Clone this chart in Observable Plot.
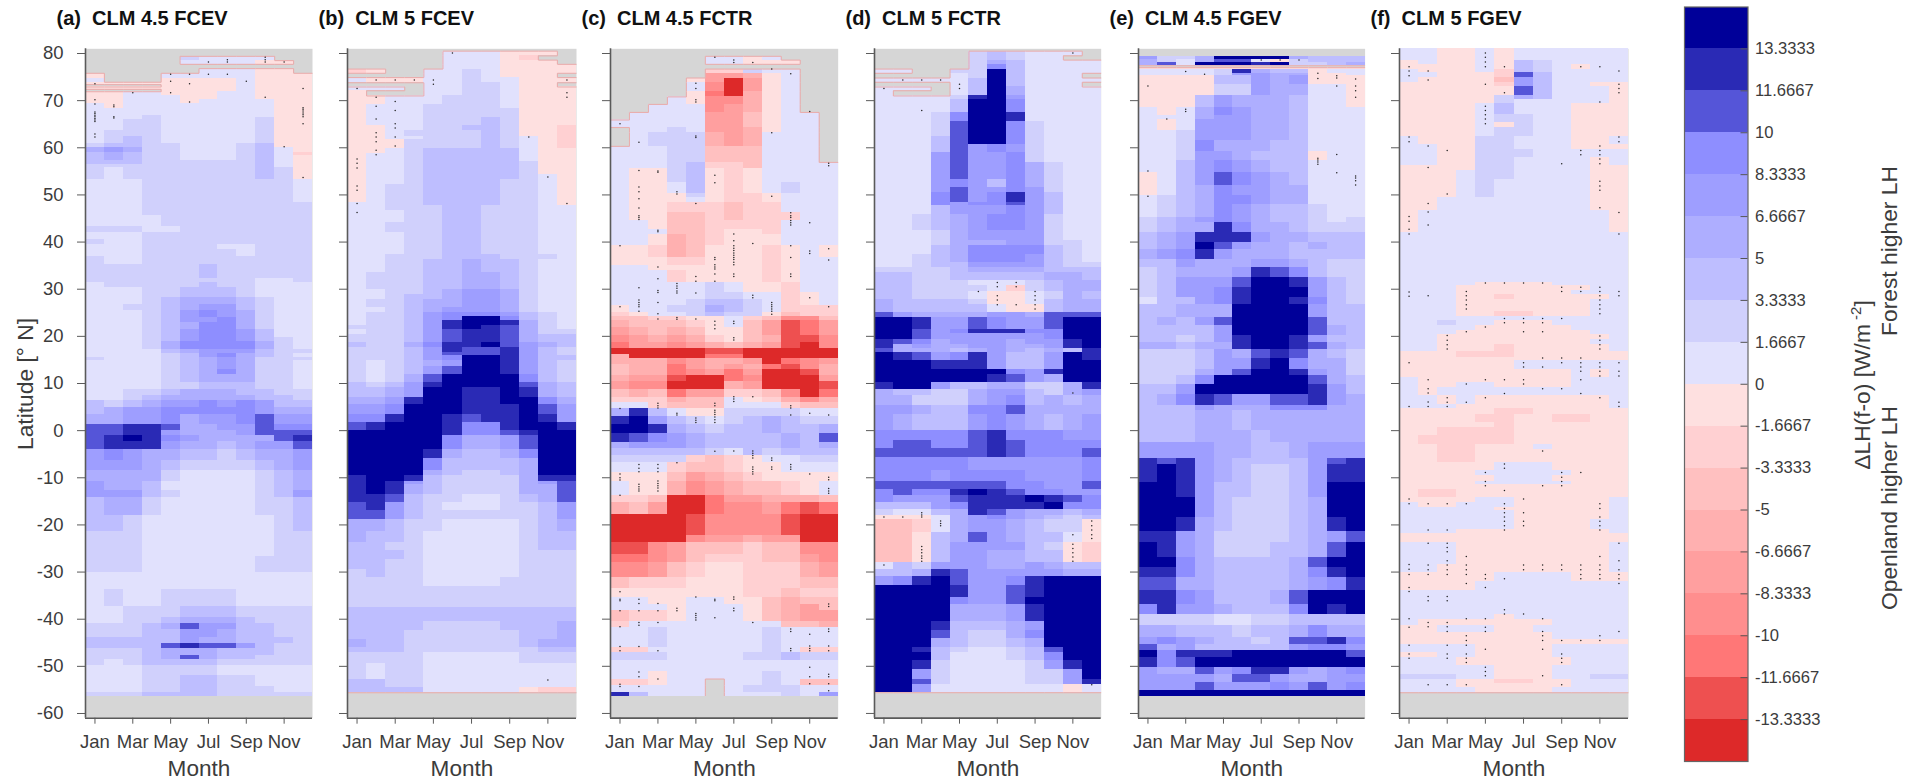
<!DOCTYPE html>
<html><head><meta charset="utf-8">
<script src="https://cdn.jsdelivr.net/npm/d3@7"></script>
<script src="https://cdn.jsdelivr.net/npm/@observablehq/plot@0.6"></script>
<style>
html,body{margin:0;padding:0;background:#fff;}
#root{position:relative;width:1907px;height:781px;overflow:hidden;font-family:"Liberation Sans",sans-serif;color:#3c3c3c;}
#root>div.p{position:absolute;top:0;}
.rot{position:absolute;white-space:nowrap;transform:translate(-50%,-50%) rotate(-90deg);font-size:22.8px;line-height:1;}
.rot sup{font-size:15px;line-height:0;}
</style></head><body><div id="root"></div>
<script>
const N = null, G = Array(12).fill(null);
const monthNames = ["Jan","Mar","May","Jul","Sep","Nov"];
const monthTicks = [1,3,5,7,9,11];
const latTicks = [-60,-50,-40,-30,-20,-10,0,10,20,30,40,50,60,70,80];
const barTicks = [-13.3333,-11.6667,-10,-8.3333,-6.6667,-5,-3.3333,-1.6667,0,1.6667,3.3333,5,6.6667,8.3333,10,11.6667,13.3333];
const barColors = ["#dd2929","#ee5050","#ff7777","#ff8e8e","#ff9f9f","#ffb0b0","#ffc0c0","#ffd0d2","#fee0e0","#e1e1fd","#d0d0fc","#bebeff","#aeaeff","#9e9eff","#8e8eff","#5555d8","#2a2ab5","#000099"];
const titles = ["(a)\u00a0\u00a0CLM 4.5 FCEV","(b)\u00a0\u00a0CLM 5 FCEV","(c)\u00a0\u00a0CLM 4.5 FCTR","(d)\u00a0\u00a0CLM 5 FCTR","(e)\u00a0\u00a0CLM 4.5 FGEV","(f)\u00a0\u00a0CLM 5 FGEV"];

// Each row: latitude of the row's upper edge, then the colour class of Jan..Dec
// (class k means k-th 1.6667 W/m2 interval above 0, negative below 0, null = no data)
const panelA = [
[79.4,N,N,N,N,N,2,1,1,1,1,N,N],[78.5,N,N,N,N,N,1,1,1,1,-1,-1,N],[77.7,...G],
[76.8,N,N,N,N,N,N,1,1,1,-1,-1,N],[75.8,-1,N,N,N,1,1,1,1,1,-1,-1,-1],[74.8,1,N,N,N,-1,-1,-1,-1,1,-1,-1,-1],
[73.9,-1,-1,-1,-1,-1,-1,-1,-1,1,-1,-1,-1],[73.4,N,N,N,N,-1,-1,-1,-1,1,-1,-1,-1],[72.9,-1,-1,-1,-1,-1,-1,-1,-1,1,-1,-1,-1],[72.4,N,N,N,N,-1,-1,-1,-1,1,-1,-1,-1],
[71.9,-1,-1,1,1,-1,-1,-1,1,1,-1,-1,-1],[71,-1,-1,1,1,1,-1,-1,1,1,-1,-1,-1],[70.3,-1,-1,1,1,1,-1,1,1,1,1,-1,-1],[69.4,1,-1,1,1,1,1,1,1,1,1,-1,-1],
[68.4,1,1,1,1,1,1,1,1,1,1,-1,-1],[66.9,1,1,1,2,1,1,1,1,1,1,-1,-1],[66.4,1,1,1,2,1,1,1,1,1,2,-1,-1],[65.9,1,1,2,2,1,1,1,1,1,2,-1,-1],
[63.6,1,2,2,2,1,1,1,1,1,2,-1,-1],[62.3,1,2,3,2,1,1,1,1,1,2,-1,-1],[60.9,2,3,3,2,2,1,1,1,2,3,-1,-1],[60.1,4,5,4,2,2,1,1,1,2,3,1,-1],
[59,3,4,3,2,2,1,1,1,2,3,1,-2],[58.4,3,4,3,2,2,1,1,1,2,3,1,-1],[57.4,3,3,3,2,2,2,2,2,2,3,1,-1],[56.5,2,2,2,2,2,2,2,2,2,3,1,-1],[55.8,2,1,2,2,2,2,2,2,2,3,2,-1],
[53.3,1,1,1,2,2,2,2,2,2,2,2,1],[48.4,1,1,1,2,2,2,2,2,2,2,2,2],[45.6,1,1,1,1,2,2,2,2,2,2,2,2],[43.2,2,2,2,1,1,2,2,2,2,2,2,2],
[42,1,1,1,2,2,2,2,2,2,2,2,2],[40.6,2,1,1,2,2,2,2,2,2,2,2,2],[39.5,1,1,1,2,2,2,2,1,1,2,2,2],[38.5,1,1,1,2,2,2,2,2,1,2,2,2],[36.9,2,1,1,2,2,2,2,2,2,2,2,2],
[35.3,2,2,2,2,2,2,3,2,2,2,2,2],[32.3,2,2,2,2,2,2,2,2,2,1,1,2],[31.4,1,2,2,2,2,2,3,2,2,1,1,1],[30.4,1,1,1,2,2,3,3,3,2,1,1,1],
[28.2,1,1,1,2,3,4,4,4,3,2,1,1],[26.8,1,1,2,2,3,4,5,5,3,2,1,1],[25.4,1,1,1,2,3,5,6,5,4,2,1,1],[24,1,1,1,2,3,5,5,6,4,2,1,1],[23,1,1,1,2,3,4,6,6,4,2,1,1],
[21.5,1,1,1,2,3,5,6,6,5,3,1,1],[19.7,1,1,1,2,3,5,6,6,5,3,2,1],[18.9,1,1,1,2,4,6,6,6,6,4,2,1],[17.3,1,1,1,1,3,4,5,5,5,3,2,2],[16.3,1,1,1,1,2,3,5,6,4,3,2,1],
[15.5,2,1,1,1,2,3,4,5,4,2,2,2],[14.8,1,1,1,1,2,3,4,5,4,2,2,1],[13,1,1,1,1,2,3,4,6,4,2,2,1],[12,1,1,1,1,2,3,4,4,4,2,2,1],[10.2,1,1,1,1,2,2,3,3,3,2,2,1],
[8.8,1,1,2,2,3,4,4,4,3,3,2,2],[7.4,1,1,2,3,4,4,4,4,4,3,3,2],[6.3,3,2,3,4,5,5,6,5,6,5,3,3],[4.9,3,4,5,5,6,6,6,6,6,5,4,4],[3.5,4,4,5,5,6,4,5,5,6,7,5,5],
[1.4,7,7,8,8,7,4,4,5,5,7,6,6],[0,7,7,8,8,5,4,4,4,5,7,7,7],[-1.1,7,8,9,8,6,5,4,4,4,4,7,8],[-2.2,7,8,8,8,5,4,4,3,4,5,5,7],[-3.9,5,6,5,4,4,3,3,2,3,4,4,5],
[-6.4,5,5,5,4,3,2,2,2,2,3,4,5],[-8.5,4,4,4,4,2,1,1,1,1,2,3,4],[-10.7,5,4,4,3,1,1,1,1,1,2,3,4],[-12.8,5,5,5,3,2,1,1,1,1,2,3,5],[-14.2,3,4,4,2,1,1,1,1,1,2,2,3],
[-18,3,3,2,1,1,1,1,1,1,1,2,3],[-21.3,2,2,2,1,1,1,1,1,1,1,2,2],[-26.6,2,2,2,1,1,1,1,1,1,2,2,2],[-30,1,1,1,1,1,1,1,1,1,1,1,1],[-33.6,1,2,1,1,2,2,2,2,1,1,1,1],
[-37.2,1,1,2,2,2,3,3,3,2,2,2,2],[-39.6,1,1,2,2,3,4,4,4,3,2,2,2],[-41,2,2,2,3,4,7,5,5,3,3,2,2],[-42.1,2,2,2,3,3,5,5,4,3,3,2,2],[-43.9,3,3,3,3,3,5,4,4,3,3,3,2],
[-45.2,3,3,3,3,7,8,7,7,5,3,2,2],[-46.2,2,2,2,3,4,4,4,3,3,3,2,2],[-47.8,2,2,2,3,4,7,4,3,3,2,2,2],[-48.5,2,1,2,3,3,3,3,2,2,2,2,2],[-49.9,1,1,1,2,2,2,2,1,1,1,1,1],
[-52,1,1,1,2,2,3,3,2,2,1,1,1],[-54.2,1,1,1,2,2,3,3,2,2,2,1,1],[-55.6,2,2,2,3,3,3,3,2,2,2,2,2],[-56.3,...G]];

const panelB = [
[80.5,N,N,N,N,N,1,1,1,-1,-1,-1,N],[79.5,N,N,N,N,N,1,1,1,-1,-2,N,N],[78.6,N,N,N,N,N,1,1,1,-1,-1,-1,N],[77.7,N,N,N,N,N,1,1,1,-1,-1,-1,-1],
[76.7,-2,-1,N,N,1,1,2,1,-1,-1,-1,-1],[75.8,N,N,N,N,1,1,2,1,-1,-1,-1,N],[74.9,1,-1,-1,-1,1,1,2,1,1,-1,-1,-1],[73.8,N,N,N,N,1,1,2,2,1,-1,-1,N],[72.9,1,1,1,N,1,1,2,2,1,-1,-1,-1],
[72.1,-1,N,N,N,1,1,2,2,1,-1,-1,-1],[71,-1,-1,1,1,1,2,2,2,1,-1,-1,-1],[69.2,-1,1,1,1,2,2,2,2,1,-1,-1,-1],[68.4,-1,1,1,1,2,2,2,2,2,-1,-1,-1],[66.4,-1,1,1,1,2,2,2,3,2,-1,-1,-1],
[64.7,-1,-1,1,1,2,2,3,3,2,-1,-1,-2],[63.6,-1,-1,1,2,2,2,2,3,2,-1,-1,-2],[62.5,-1,-1,1,1,2,2,2,3,2,1,-1,-2],[61.7,-1,-1,-1,2,2,2,2,3,2,1,-1,-2],[59.8,-1,-1,1,2,3,3,3,3,3,1,-1,-1],
[58.8,-1,1,1,2,3,3,3,3,3,1,-1,-1],[57,-1,1,1,2,3,3,3,3,3,2,-1,-1],[54.3,-1,1,1,2,3,3,3,3,3,2,1,-1],[53.3,-1,1,1,2,3,3,3,3,2,2,1,-1],[52.3,-1,1,2,2,3,3,3,3,2,2,1,-1],
[48.4,1,1,2,2,3,3,3,3,2,2,1,-1],[47.7,1,1,2,2,2,3,3,2,2,2,1,1],[46.6,1,1,1,2,2,3,3,2,2,2,1,1],[44.1,1,1,2,2,2,3,3,2,2,2,1,1],[42,1,1,1,2,2,3,3,2,2,2,1,1],
[37.4,1,1,2,2,2,3,3,3,2,2,2,1],[36.4,1,1,2,2,3,3,4,3,3,2,1,1],[33.5,1,2,2,2,3,3,4,4,3,2,1,1],[30,1,1,2,2,3,4,5,5,4,2,1,1],[28.9,1,1,2,3,3,4,5,5,4,2,1,1],
[27.9,1,2,2,3,4,4,5,5,4,2,1,1],[26.1,1,1,2,3,4,5,5,5,4,2,1,1],[25,1,2,2,3,5,6,6,6,5,3,2,1],[24.3,1,2,2,3,5,6,9,9,6,3,2,1],[23.3,1,2,2,3,5,8,9,9,8,4,2,1],
[22.2,2,2,2,3,5,8,9,8,7,4,2,1],[21.5,1,2,2,3,5,7,8,8,7,4,2,2],[20.5,2,2,2,3,5,7,8,8,7,4,3,3],[18.7,3,2,2,4,6,8,8,9,7,5,4,3],[17.6,2,2,2,3,5,8,7,7,8,5,3,2],
[16.6,2,2,2,3,5,7,7,7,8,5,3,2],[15.9,2,2,2,3,5,6,9,9,8,5,3,3],[14.8,2,1,2,3,4,5,9,9,8,5,3,2],[13.7,2,1,2,3,5,7,9,9,8,5,3,2],[12,2,1,2,4,7,9,9,9,9,6,3,2],
[10.2,3,2,3,5,8,9,9,9,9,7,4,3],[9.1,3,3,4,5,9,9,8,8,9,8,4,3],[7,4,4,5,8,9,9,8,8,9,9,6,4],[5.6,5,5,6,9,9,9,8,8,8,9,7,5],[3.5,6,6,8,9,9,8,7,8,8,9,8,5],
[1.7,7,8,9,9,9,8,6,6,8,9,9,8],[0,9,9,9,9,9,8,6,6,7,8,9,9],[-1.1,9,9,9,9,9,6,4,4,5,7,9,9],[-3.9,9,9,9,9,8,4,3,3,4,6,9,9],[-6,9,9,9,9,6,3,3,3,3,4,9,9],
[-8.5,9,9,9,9,4,3,2,2,3,4,9,9],[-9.6,8,9,9,8,3,2,2,2,2,4,8,8],[-10.7,8,9,8,5,3,2,2,2,2,4,5,7],[-11.4,8,9,8,4,3,2,2,2,2,4,4,7],[-13.5,8,8,7,3,2,2,1,1,2,3,4,7],
[-15.2,7,8,5,3,2,1,1,1,2,2,3,5],[-17,7,7,5,3,2,2,2,2,2,2,3,5],[-18.8,4,4,3,2,2,1,1,1,1,2,3,4],[-21.3,4,3,3,2,1,1,1,1,1,2,3,3],[-23.7,3,3,2,2,1,1,1,1,1,2,3,3],
[-25.5,3,3,3,2,1,1,1,1,1,2,2,2],[-27.3,3,3,2,2,1,1,1,1,1,2,2,2],[-29.4,2,3,2,2,1,1,1,1,1,2,2,2],[-31.2,2,2,2,2,1,1,1,1,2,2,2,2],[-33,2,2,2,2,2,2,2,2,2,2,2,2],
[-37.5,3,3,3,3,3,3,3,3,3,3,3,3],[-40.5,3,3,3,3,2,2,2,2,3,3,3,4],[-42.5,3,3,3,2,2,2,2,2,2,3,3,4],[-44.2,4,3,3,2,2,2,2,2,2,3,4,4],[-46,3,3,3,2,2,2,2,2,2,2,3,3],
[-47,2,2,2,2,1,1,1,1,1,2,2,2],[-49.5,2,1,2,2,1,1,1,1,1,1,1,1],[-52.7,3,3,2,2,1,1,1,1,1,1,1,1],[-54.5,3,3,3,3,1,1,1,1,1,-1,-2,-2],[-55.6,...G]];

const panelC = [
[79.4,N,N,N,N,N,1,1,-1,1,N,N,N],[78.6,N,N,N,N,N,1,1,-1,-1,-1,N,N],[77.7,...G],[76.7,N,N,N,N,N,-2,-2,2,1,1,N,N],[75.8,N,N,N,N,N,-5,-5,-4,-1,1,N,N],
[74.8,N,N,N,N,-1,-5,-9,-5,-1,1,N,N],[73.9,N,N,N,N,1,-6,-9,-5,-1,1,N,N],[71.9,N,N,N,N,-1,-7,-9,-4,-1,1,N,N],[70.8,N,N,N,1,-1,-6,-6,-4,-1,1,N,N],[69.2,N,N,1,1,1,-6,-5,-4,-1,1,N,N],
[67.5,N,1,1,1,1,-5,-5,-3,-1,1,1,N],[65.9,1,1,1,1,1,-5,-5,-3,-1,1,1,N],[64.3,N,1,1,2,1,-5,-5,-4,-1,1,1,N],[63.2,N,1,2,2,2,-4,-5,-4,1,1,1,N],[60.3,1,1,1,2,2,-3,-3,-3,1,1,1,N],
[56.9,1,1,1,2,3,-2,-2,-3,1,1,1,1],[55.5,1,-1,-1,2,3,-1,-2,-1,1,1,1,1],[52.6,1,-1,-1,1,3,-1,-2,-1,1,2,1,1],[50.3,1,-1,-1,-1,2,-1,-2,-2,-1,1,1,1],[49.4,1,-1,-1,-1,1,-1,-2,-2,-1,1,1,1],
[48.4,1,-1,-1,-2,-2,-2,-3,-2,-2,1,1,1],[46.3,1,-1,-1,-3,-3,-2,-3,-2,-2,-2,1,1],[44.5,1,1,-1,-3,-3,-2,-2,-2,-2,1,1,1],[42.7,1,1,1,-3,-3,-2,-1,-1,-2,1,1,1],[41.7,1,1,-1,-4,-3,-2,-1,-1,-1,1,1,1],
[39.2,-1,-1,-2,-4,-3,-1,-1,-1,-2,-1,1,-1],[36.7,-1,-1,-1,-2,-2,-1,-1,-1,-2,-1,1,1],[35,1,1,-1,-1,-1,-1,-1,-1,-2,-1,1,1],[33.9,1,1,1,-2,-1,-1,-1,-1,-2,-1,1,1],[31.4,1,1,1,1,1,2,1,-1,-1,-2,1,1],
[29.3,1,1,1,1,1,2,2,1,1,-2,-1,1],[27.9,1,1,1,1,2,3,3,2,1,-2,-1,1],[26.5,-1,1,1,2,2,4,3,2,1,-2,-2,-2],[25,-2,-1,1,1,2,3,2,2,-1,-3,-2,-2],[24.3,-3,-3,-2,-2,-1,-1,1,-2,-3,-6,-6,-3],
[23.3,-4,-3,-3,-3,-2,-1,1,-3,-5,-8,-7,-5],[21.9,-5,-4,-3,-4,-3,-1,-1,-3,-5,-8,-7,-5],[20.1,-6,-5,-4,-5,-4,-2,-1,-3,-4,-8,-8,-6],[18.7,-7,-5,-5,-6,-5,-4,-3,-4,-5,-8,-9,-6],
[17.5,-9,-9,-9,-9,-9,-8,-8,-9,-9,-9,-9,-9],[16.2,-4,-9,-9,-9,-9,-7,-7,-9,-9,-9,-9,-9],[15.4,-4,-4,-4,-6,-5,-4,-4,-5,-9,-7,-6,-5],[14.1,-3,-4,-4,-7,-5,-4,-5,-4,-7,-8,-6,-4],
[13,-3,-4,-4,-7,-6,-5,-7,-5,-9,-9,-8,-4],[11.6,-4,-5,-5,-8,-9,-9,-7,-6,-9,-9,-9,-5],[10.5,-5,-6,-6,-9,-9,-9,-4,-5,-9,-9,-9,-8],[8.8,-3,-4,-3,-7,-5,-5,-2,-2,-3,-6,-9,-7],
[7,-2,-2,-2,-4,-3,-3,1,-1,-2,-4,-6,-4],[6,1,1,-2,-3,-3,-3,1,1,1,-2,-3,-3],[4.6,4,8,3,1,-1,-1,2,2,2,2,1,1],[3.1,8,9,5,3,2,1,2,3,4,3,2,2],[1.4,9,9,8,4,3,2,3,3,4,3,3,4],
[-0.6,8,7,6,5,4,3,3,3,3,4,3,7],[-2.5,4,5,5,5,4,3,3,3,3,4,3,4],[-3.9,3,3,3,3,3,2,1,3,2,3,3,3],[-5.3,2,2,2,2,-2,-3,-2,-1,1,1,2,2],[-6.8,1,1,1,-2,-3,-3,-2,-1,-1,1,1,1],
[-8.9,-1,-1,-1,-3,-5,-4,-3,-2,-1,-1,-1,-1],[-10.7,1,-1,-1,-4,-6,-5,-4,-3,-3,-2,-1,1],[-13.8,-2,-2,-3,-9,-9,-7,-5,-5,-4,-4,-4,-3],[-15.2,-4,-3,-5,-9,-9,-7,-6,-6,-5,-7,-8,-7],
[-17.7,-9,-9,-9,-9,-8,-6,-6,-6,-6,-8,-9,-9],[-22.3,-9,-9,-9,-9,-6,-5,-5,-4,-5,-5,-9,-9],[-23.7,-8,-8,-6,-5,-3,-3,-3,-2,-3,-3,-6,-6],[-26.2,-7,-7,-6,-5,-3,-2,-2,-2,-3,-3,-5,-6],
[-28,-6,-6,-5,-3,-2,-1,-1,-2,-2,-2,-4,-5],[-31.2,-3,-2,-2,-2,-1,-1,-1,-2,-2,-2,-3,-3],[-33.6,-1,-1,-1,-1,-1,-1,-1,-2,-2,-3,-2,-2],[-35.4,1,1,-1,-1,1,1,-1,-1,-3,-4,-3,-3],
[-36.8,1,1,1,-1,1,1,1,-1,-3,-4,-5,-3],[-38.2,-3,-2,-2,-1,1,1,1,-1,-3,-4,-5,-5],[-40.4,-2,1,1,1,1,1,1,1,1,-3,-3,-4],[-41.8,1,1,2,1,1,1,1,1,2,1,1,1],[-46.1,-2,-2,1,1,1,1,1,1,2,1,-2,-2],
[-47.1,2,2,2,1,1,1,1,2,2,3,2,2],[-48.8,1,1,1,1,1,1,1,1,1,1,1,1],[-51,1,1,-1,1,1,1,1,1,2,1,1,1],[-52.7,-2,-2,-1,1,1,N,1,1,2,1,-3,-3],[-54.1,1,1,1,1,1,N,1,2,2,2,1,1],
[-55.6,8,3,1,1,1,N,1,1,1,2,1,5],[-56.3,...G]];

const panelD = [
[80.5,N,N,N,N,N,2,3,2,1,1,1,N],[79.5,N,N,N,N,N,2,3,2,1,1,N,N],[78.6,N,N,N,N,N,2,4,3,1,1,1,1],[77.7,N,N,N,N,N,2,6,3,1,1,1,1],[76.7,1,1,N,N,2,2,9,3,1,1,1,1],
[75.8,N,N,N,N,1,2,9,3,1,1,1,N],[74.8,1,1,1,1,1,3,9,3,1,1,1,1],[73.9,N,N,N,N,1,3,9,3,1,1,1,N],[72.9,1,1,1,N,1,3,9,4,1,1,1,1],[72.1,1,N,N,N,1,3,9,4,1,1,1,1],
[71,1,1,1,1,2,8,9,5,1,1,1,1],[70.3,1,1,1,1,3,9,9,6,1,1,1,1],[67.5,1,1,1,2,6,9,9,8,1,1,1,1],[65.6,1,1,1,2,7,9,9,6,2,1,1,1],[62.5,1,1,1,3,7,9,9,6,2,1,1,1],
[60.8,1,1,1,3,7,5,6,5,2,1,1,1],[59,1,1,1,5,7,5,5,6,2,1,1,1],[56.9,1,1,1,5,7,5,5,6,4,2,1,1],[53.3,1,1,1,5,6,5,3,6,4,2,1,1],[51.6,1,1,1,5,7,5,5,6,5,2,1,1],
[50.5,1,1,1,6,7,5,6,8,5,3,1,1],[48.4,1,1,1,6,5,6,6,7,5,3,1,1],[47.7,1,1,1,3,5,5,5,6,5,3,1,1],[45.9,1,1,2,3,4,5,6,6,5,2,1,1],[42.4,1,1,1,2,4,5,5,5,5,2,1,1],
[40.3,1,1,1,2,4,4,4,5,5,2,2,1],[39.2,1,1,1,3,4,6,6,6,6,3,2,1],[37.4,1,1,2,3,4,6,6,6,5,3,2,1],[35.7,1,1,2,3,3,5,5,5,5,3,2,2],[34.6,2,2,2,2,3,4,4,4,4,3,3,3],
[33.5,3,3,2,2,3,3,3,3,3,4,4,3],[31.8,3,3,2,2,2,1,1,1,2,3,4,4],[30.7,3,3,2,2,2,2,1,-2,2,3,4,4],[29.6,3,3,2,2,2,1,-1,-1,1,2,4,3],[27.9,4,3,3,3,3,2,-1,-1,1,3,4,4],
[26.7,4,3,3,3,3,3,1,-1,-1,3,4,4],[25,7,5,4,4,4,4,5,5,4,7,7,7],[24,9,9,8,5,5,7,6,5,5,7,9,9],[21.5,9,9,7,5,6,8,8,8,6,6,9,9],[20.5,9,9,7,5,5,5,5,5,5,6,9,9],
[19.4,8,7,6,4,5,5,5,4,5,5,8,9],[18.3,8,4,5,4,4,5,5,4,4,5,8,9],[17.5,7,4,4,4,3,4,5,4,3,4,3,8],[16.6,9,8,7,5,6,8,5,3,3,5,9,8],[14.8,9,9,9,8,8,8,5,3,3,5,9,9],
[13,9,9,9,9,9,9,9,6,5,8,9,9],[12,9,9,9,9,9,9,8,7,5,4,9,9],[10.2,8,9,9,5,3,3,4,4,2,2,4,8],[8.8,4,3,3,2,2,4,5,5,3,2,4,5],[7.4,4,4,2,2,2,4,5,6,3,4,3,4],
[5.3,5,5,4,3,3,6,6,7,4,4,4,4],[3.5,5,4,3,3,3,5,6,5,4,3,4,5],[0,6,6,6,6,6,7,8,6,6,6,5,5],[-2.2,6,7,7,6,6,7,8,7,6,6,6,6],[-3.9,7,7,7,7,7,7,8,7,6,6,6,7],
[-5.8,6,6,6,6,6,5,5,5,5,5,5,6],[-8.5,6,6,6,5,6,6,6,6,5,5,5,6],[-10.7,7,7,7,7,7,7,7,6,6,5,5,7],[-12.4,6,7,6,6,8,9,8,7,6,6,5,5],[-13.8,6,5,5,5,7,8,8,8,9,8,7,6],
[-15.2,3,3,3,5,6,8,8,8,8,9,6,6],[-16.7,2,1,1,3,4,8,7,5,4,4,3,4],[-18.1,-1,-1,-1,1,4,5,6,5,4,3,2,3],[-18.8,-3,-3,-2,1,4,5,5,4,3,2,2,-1],[-21.6,-3,-3,-1,3,4,7,5,4,3,3,1,-1],
[-23.7,-3,-3,-1,3,5,5,5,5,3,2,-1,-2],[-25.5,-3,-3,-1,3,5,5,4,4,3,3,-1,-2],[-28,1,3,2,5,5,5,4,4,5,4,3,3],[-29.4,3,3,4,8,7,5,5,5,5,5,4,4],[-31,5,6,8,9,7,5,5,6,8,9,9,9],
[-32.9,9,9,9,9,8,5,5,7,8,9,9,9],[-35.4,9,9,9,9,6,5,5,7,9,9,9,9],[-36.8,9,9,9,9,4,4,4,5,8,9,9,9],[-40.4,9,9,9,8,3,3,3,4,5,9,9,9],[-42.5,9,9,9,7,3,2,2,4,6,9,9,9],
[-44.2,9,9,9,4,3,2,2,3,4,9,9,9],[-46,9,9,8,3,2,1,1,2,3,7,9,9],[-47.1,9,9,9,3,1,1,1,2,3,6,9,9],[-48.8,9,9,8,2,1,1,1,1,2,5,8,9],[-50.6,9,9,5,2,1,1,1,1,2,2,5,9],
[-52.7,9,9,7,2,1,1,1,1,2,2,5,8],[-53.8,9,9,5,1,1,1,1,1,1,1,-1,1],[-55.6,...G]];

const panelE = [
[79.4,5,2,2,4,9,9,9,9,4,3,3,3],[78.8,4,2,1,4,7,7,1,-1,2,3,3,3],[78.1,4,7,1,9,9,9,8,9,2,2,3,4],[77.4,...G],[77,-1,-1,-1,-1,-1,-1,-1,-1,-1,-1,-1,-1],
[76.7,1,1,1,1,2,8,4,3,3,-1,1,1],[75.8,1,1,1,1,2,5,5,4,4,-1,-1,1],[75.3,-1,-1,-1,-1,3,3,5,4,5,-1,-1,-1],[73.5,-1,-1,-1,-1,2,2,5,4,4,1,1,-1],[71,-1,-1,-1,3,5,4,4,4,3,1,1,-1],
[68.5,1,-1,1,4,6,5,4,4,3,1,1,1],[66.8,1,1,1,4,5,5,4,4,3,1,1,1],[65.9,1,-1,1,5,5,5,4,4,3,1,1,1],[63.6,1,1,2,5,5,5,4,4,3,1,1,1],[61.5,1,1,2,6,4,4,4,3,3,1,1,1],
[59.3,1,1,2,5,5,4,3,3,3,-1,1,1],[57.2,1,1,3,5,6,5,4,3,3,1,1,1],[54.7,-1,1,3,5,7,6,5,4,3,1,1,1],[51.9,-1,1,3,4,6,5,5,4,4,1,1,1],[49.8,1,2,3,4,6,6,5,4,4,1,1,1],
[48,1,2,3,4,6,5,4,3,3,2,1,1],[45.2,2,3,4,5,6,5,4,3,3,2,1,2],[44.1,2,3,4,4,8,6,4,4,3,2,2,2],[42,3,4,5,8,8,8,5,4,4,3,3,3],[39.9,3,4,5,9,7,5,4,4,3,4,3,3],
[38.5,4,5,6,8,5,4,4,4,3,3,3,3],[36.4,3,3,5,4,4,4,5,5,4,3,2,2],[34.6,2,3,4,4,4,5,8,7,6,3,2,2],[32.5,2,3,5,5,5,7,9,9,8,5,3,2],[30.4,2,3,5,5,6,8,9,9,9,5,3,2],
[28.2,1,3,3,5,6,8,9,9,8,6,3,2],[26.8,3,3,4,4,4,9,9,9,9,5,3,3],[24,3,4,3,5,7,9,9,9,9,7,3,3],[22.2,3,3,3,3,5,9,9,9,9,7,4,3],[20.1,3,3,2,3,5,8,9,9,8,5,3,3],
[18.7,4,4,3,4,4,8,9,9,8,7,4,3],[17.3,2,2,2,3,5,4,7,8,7,4,3,2],[15.2,2,2,2,3,5,5,8,9,6,4,4,2],[13,2,2,2,4,5,7,9,9,8,5,4,2],[11.6,2,2,3,6,9,9,9,9,9,7,4,3],
[9.8,3,3,5,9,9,9,9,9,9,8,5,3],[7.7,3,4,6,8,7,5,5,7,7,8,5,4],[5.3,3,3,3,5,4,4,4,6,6,6,4,4],[4.2,3,3,3,4,4,3,4,4,4,4,4,4],[0,3,3,3,4,4,4,3,4,4,4,4,4],
[-2.5,5,5,5,5,4,4,3,3,4,5,5,5],[-6,8,7,8,5,4,3,3,3,3,5,7,8],[-7.1,8,9,8,5,4,3,2,2,3,5,8,8],[-11,9,9,8,5,3,3,2,2,3,5,9,9],[-14.2,9,9,9,5,3,2,2,2,3,4,9,9],
[-18.4,9,9,8,4,3,2,2,2,3,4,8,9],[-21.3,8,8,5,4,2,2,2,2,3,4,5,7],[-23.7,9,8,5,4,2,2,2,3,3,4,7,9],[-26.9,9,9,6,4,3,3,3,3,4,7,9,9],[-29,8,8,6,4,3,3,3,3,4,6,8,9],
[-31.2,7,7,4,4,3,3,3,3,4,5,6,8],[-34,8,8,6,5,3,3,3,4,7,9,9,9],[-36.8,6,8,5,5,4,3,3,3,6,9,8,9],[-39,2,2,2,2,1,1,2,2,3,3,3,3],[-41.4,4,4,3,3,3,2,3,3,4,6,4,4],
[-43.9,5,6,5,4,3,3,2,3,7,7,8,6],[-45.3,7,4,5,3,3,3,3,3,5,6,6,5],[-46.7,9,6,8,8,8,9,9,9,9,9,9,7],[-48.1,8,6,7,9,9,9,9,9,9,9,9,9],[-50.2,5,4,4,7,5,6,8,8,5,4,5,6],
[-51.7,5,5,5,5,4,7,7,5,4,4,5,5],[-53.5,5,5,5,7,5,5,5,6,5,7,5,6],[-55.2,9,9,9,9,9,9,9,9,9,9,9,9],[-56.3,...G]];

const panelF = [
[81,1,1,-1,-1,1,-1,1,1,1,1,1,1],[78.6,-1,1,-1,-1,1,-1,3,2,1,1,1,1],[77.6,-1,-1,-1,-1,1,-1,3,2,1,-1,1,1],[76.7,1,-1,-1,-1,1,-2,3,2,1,1,1,1],[76,1,1,-1,-1,-1,-2,7,3,1,1,1,1],
[74.9,1,-1,-1,-1,-1,-3,5,3,1,1,1,1],[73.8,-1,-1,-1,-1,-1,-2,5,3,1,1,-1,-1],[72.9,-1,-1,-1,-1,-1,-1,7,3,1,1,1,-1],[71,-1,-1,-1,-1,-1,2,4,3,1,1,1,-1],[70.2,-1,-1,-1,-1,-1,2,1,1,1,1,1,-1],
[69.3,-1,-1,-1,-1,1,3,1,1,1,-1,-1,-1],[67.1,-1,-1,-1,-1,1,2,2,1,1,-1,-1,-1],[65.4,-1,-1,-1,-1,1,-1,2,1,1,-1,-1,-1],[64.4,-1,-1,-1,-1,1,2,2,1,1,-1,-1,-1],[62.5,1,-1,-1,-1,2,2,1,1,1,-1,-1,1],
[60.8,1,1,-1,-1,2,2,1,1,1,-1,-1,-1],[59.7,1,1,-1,-1,2,2,2,1,1,1,1,1],[57.9,1,1,-1,-1,2,2,1,1,1,1,-1,1],[56.2,-1,-1,-1,-1,2,2,1,1,1,1,-1,-1],[55.1,-1,-1,-1,1,2,2,1,1,1,1,-1,-1],
[53.3,-1,-1,-1,1,2,1,1,1,1,1,-1,-1],[49.4,-1,-1,1,1,1,1,1,1,1,1,-1,-1],[46.6,-1,1,1,1,1,1,1,1,1,1,1,-1],[42,1,1,1,1,1,1,1,1,1,1,1,1],[31.4,1,1,1,1,-1,-1,-1,-1,1,1,1,1],
[30.7,1,1,1,-1,-1,-1,-1,-1,-1,-1,1,1],[29.8,1,1,1,-1,-1,-1,-1,-1,-1,1,1,1],[28.9,1,1,1,-1,-1,-2,-1,-1,-1,-1,-1,1],[27.9,1,1,1,-1,-1,-1,-1,-1,-1,-1,1,1],[25.2,1,1,1,-1,-1,-2,-2,-1,-1,-1,1,1],
[24.3,1,1,1,1,1,1,1,1,1,1,1,1],[23.3,1,1,2,1,1,-1,-1,-1,1,1,1,1],[22.2,1,1,1,1,-1,-1,-1,-1,-1,1,1,1],[21.2,1,1,1,-1,-1,-1,-1,-1,-1,-1,1,1],[20.5,1,1,-1,-1,-1,-1,-1,-1,-1,-1,-1,1],
[19.4,1,1,-1,-1,-1,-1,-1,-1,-1,-1,1,1],[18.3,1,1,-1,-1,-1,-2,-1,-1,-1,-1,-1,1],[16.8,-1,-1,-1,-2,-2,-2,-1,-1,-1,-1,-1,-1],[15.6,-1,-1,-1,-1,-1,-1,-1,-1,-1,-1,-1,-1],[14.8,-1,-1,-1,-1,-1,-1,1,1,1,1,1,1],
[13,-1,-1,-1,-1,-1,-1,-1,-1,-1,1,-1,1],[11.2,1,-1,-1,-1,-1,-1,-1,-1,-1,1,1,1],[10.2,1,-1,-1,1,1,-1,-1,-1,-1,1,1,1],[9.2,1,-1,1,1,1,1,1,1,1,1,1,1],[7.4,1,1,-1,1,-1,-1,-1,-1,-1,-1,-1,1],
[5.6,1,1,1,-1,-1,-1,-1,-1,-1,-1,-1,1],[4.6,-1,-1,-1,-1,-1,-2,-2,-1,-1,-1,-1,-1],[3.5,-1,-1,-1,-1,-2,-2,-1,-1,-2,-2,-1,-1],[1.7,-1,-1,-1,-1,-1,-2,-1,-1,-1,-1,-1,-1],[0.7,-1,-1,-2,-2,-2,-2,-1,-1,-1,-1,-1,-1],
[-1.1,-1,-2,-2,-2,-2,-2,-1,-1,-1,-1,-1,-1],[-2.9,-1,-1,-2,-2,-1,-1,-1,1,-1,-1,-1,-1],[-3.9,-1,-1,-2,-2,-1,-1,-1,-1,-1,-1,-1,-1],[-6.8,-1,-1,-1,-1,-1,1,1,1,-1,-1,-1,-1],[-8.5,-1,-1,-1,-1,1,1,1,1,1,-1,-1,-1],
[-9.6,-1,-1,-1,-1,-1,1,1,1,-1,-1,-1,-1],[-10.7,-1,-1,-1,-1,1,1,1,1,1,-1,-1,-1],[-11.5,-1,-1,-1,-1,-1,-1,-1,-1,-1,-1,-1,-1],[-12.4,-1,-2,-2,-1,-1,-1,-1,-1,-1,-1,-1,-1],[-14.2,-1,-1,-1,-1,1,1,-1,-1,-1,-1,-1,1],
[-15.2,1,-1,-1,1,1,1,-1,-1,-1,-1,-1,1],[-16.3,1,1,1,1,1,-1,-1,-1,-1,-1,-1,1],[-17,1,1,1,1,1,1,-1,-1,-1,-1,-1,1],[-18.8,1,1,1,1,1,1,-1,-1,-1,-1,1,1],[-20.9,1,1,1,-1,-1,-1,-1,-1,-1,-1,-1,1],
[-21.8,-1,-1,-1,-1,-1,-1,-1,-1,-1,-1,-1,-1],[-23.7,1,1,1,-1,-1,-1,-1,-1,-1,-1,-1,1],[-28.3,1,1,-1,-1,-1,-1,-1,-1,-1,-1,-1,1],[-30.1,-1,-1,-1,-1,-1,1,1,1,1,-1,-1,-1],[-31.9,-1,-1,-1,-1,1,1,1,1,1,1,1,1],
[-34,1,1,1,1,1,1,1,1,1,1,1,1],[-38.9,1,1,1,1,1,-1,1,1,1,1,1,1],[-40,1,-1,-1,-1,-1,-1,-1,-1,1,1,1,1],[-41.4,-1,-1,1,1,1,-1,-1,1,1,1,1,1],[-42.8,-1,-1,-1,-1,-1,-1,-1,-1,1,1,1,1],
[-44.2,-1,-1,-1,-1,-1,-1,-1,-1,-1,-1,-1,-1],[-45.3,1,1,1,1,-1,-1,-1,-1,1,1,1,1],[-47,-1,-1,1,1,-1,-1,-1,-1,1,1,1,1],[-48.1,1,1,1,-1,-1,-1,-1,-1,-1,1,1,1],[-49.9,1,1,1,1,1,-1,-1,-1,1,1,1,1],
[-51.7,2,2,2,1,1,-1,-1,-1,1,1,2,2],[-52.7,1,1,1,-1,-1,-2,-2,-1,-1,1,1,1],[-53.7,1,1,1,-1,-1,-1,-1,-1,-1,1,1,1],[-54.5,1,1,1,1,-1,-1,-1,-1,1,1,1,1],[-55.6,...G]];

// Significance stippling: latitudes per month (Jan..Dec)
const stipA = [[73.6,70.2,69.3,67.6,67.3,66.9,66.6,66.2,65.9,65.6,62.9,62.3],[69.1,68.7,66.6,66.3],[71.7],[],[75.6,74.1,71.7],[75.6,73.6,69.7],[78.2,75.6],[78.7,78.2,75.6],[74.1],[79.2,78.7,78.2,70.7],[78.2,60.2],[72.6,68.5,68.2,67.8,67.4,67,66.6,65.1,53.7]];
const stipB = [[72.6,57.6,56.7,55.7,51.9,51,48.2,46.3],[74.4,70.7,68.8,66.1,63.2,62.3,61.3,59.5,58.5],[74.4,69.8,67.9,65.1,64.2,62.3,60.4],[74.4],[74.4,73.5],[80.1],[],[],[],[62.3],[53.8,-52.9],[74.4,71.7,70.7,48.2]];
const stipC = [[65.1,39.2,26.3,4.7,-9.2,-10,-10.5,-13.7,-34.2,-35.8,-36.1,-38.2,-41.6,-45.8,-46.7,-53.8,-54.3],
[61.2,55.2,51.7,50.7,49.2,47.2,45.6,45.2,44.8,30.3,27.7,27.2,26.7,26.3,25.3,-7.2,-8,-8.7,-11.4,-11.9,-12.4,-12.8,-35.8,-36.7,-38.2,-40.7,-41.3,-45.8,-51.2,-52.2,-54.3],
[55.1,54.8,42.5,42.2,34.7,32.2,29.7,29.3,27.2,24.8,23.7,5.8,5.3,4.8,-7.2,-8,-8.7,-10.7,-11.2,-11.7,-12.2,-12.8,-36.7,-38.2,-40.7,-46.7,-52.7],
[50.7,50.2,31.2,30.7,30.2,29.6,29.2,24,23.6,3.7,3.3,-6.8,-37.7,-38.2],
[73.7,72.6,70.2,69.7,62.5,62.2,48.2,32.7,31.7,29.2,23.7,2.7,2.2,1.7,-35.3,-38.8,-39.2,-39.7,-40.2],
[79.2,54.2,52.6,36.7,36.3,35.2,34.7,34.3,33.2,31.7,23.2,22.4,21.6,5.8,5.3,4.3,3.9,3.4,2.9,2.3,1.7,-4.4,-35.8,-36.1,-39.7],
[78.6,78.1,41.7,40.3,39.2,38.7,38.2,37.7,37.2,36.7,36.3,35.7,35.2,33.2,32.7,23.2,22.7,19.7,19.2,7.2,6.7,6.2,-4.3,-35.3,-35.8,-37.7,-38.2],
[78.1,39.7,28.7,28.2,7.2,-4.3,-4.8,-5.3,-5.8,-7.7,-8.2,-8.7,-9.2,-40.7],
[76.7,63.2,49.7,27.2,26.7,26.3,25.8,25.3,24.7,-5.8,-6.3,-7.7,-8.2],
[75.7,46.2,45.6,45.2,44.6,44.1,43.6,39.2,36.7,33.2,32.7,5.3,4.8,3.3,-7.2,-7.7,-8.2,-42.1,-42.6,-46.2,-46.7],
[67.7,44.1,38.1,37.6,28.2,3.7,-9.2,-43.2,-45.7,-46.2,-46.7,-50.2,-52.2,-53.7],
[56.7,56.2,38.6,36.2,26.3,3.3,-9.9,-10.4,-12.3,-12.8,-13.3,-36.8,-37.3,-42.1,-42.6,-45.7,-46.7,-51.7,-52.2,-53.7,-55.2]];
const stipD = [[72.6,-18.3,-28.5],[74.4,-18.3],[74.4,67.9,-17.4,-17.9,-18.3,-24.6,-25.3,-25.9,-26.6,-27.1,-27.7],[74.4,-19.2,-19.7,-20.2],[73.5,72.6],[29.5],[31.4,30.5,28.6,27.7,26.7],[31.4,30.5,26.7],[29.5,28.6,27.7,26.7,25.8],[],[80.1,8,-22.1,-24.1,-25,-25.9,-26.8,-27.7],[-19.2,-20.2,-21.1,-22.1,-22.9,-53.9]];
const stipE = [[73.1,55.1,49.7],[66.1],[76.2,68.2,67.7],[75.6],[],[],[78.6],[78.6],[78.6],[75.8,74.7,57.8,57.4,57,56.5],[75.3,74.8,73.1,58.6,54.7],[74.6,73.1,72.1,70.7,54,53.6,53,52.1]];
const stipF = [[77.2,76.3,75.3,62.3,61.3,45.4,44.4,42.7,41.7,29.4,28.5,14.4,5.1,-14.5,-15.5,-28.4,-29.4,-30.5,-33.3,-34.1,-39.9,-41.7,-45.5,-47.4,-48.3],
[76.3,74.4,60.4,55.8,48.2,46.4,43.6,28.6,10.8,8.9,8,6.1,5.1,-15.5,-21.1,-23.9,-28.5,-29.5,-30.5,-35.2,-36.1,-40.7,-41.6,-53.9],
[59.4,50.2,20.2,19.2,18.2,17.3,7,6,5.1,-15.5,-21.1,-23.9,-24.8,-25.7,-27.6,-28.5,-29.5,-30.5,-35.2,-36.1,-40.7,-41.6,-42.6,-45.5,-47.4,-48.3,-53.9],
[29.5,28.6,27.7,26.7,25.8,21,9.9,6,-15.5,-26.7,-28.5,-29.5,-30.5,-32.4,-39.9,-43.5,-44.5,-45.5,-47.4,-48.3,-49.2,-53.9],
[80.1,79.2,78.2,77.2,73.5,68.8,67.9,67,66.1,65.1,31.3,22,10.8,7,-8.9,-10.8,-11.7,-30.5,-31.4,-33.3,-39.9,-41.7,-42.6,-46.4,-50.2,-51.1,-52],
[77.2,71.7,31.3,23.8,22.9,10.8,7.9,-7.1,-8,-12.7,-15.5,-16.5,-17.4,-18.3,-19.2,-20.2,-21.1,-31.4,-38,-38.9],
[31.3,23.8,22.9,21,14.4,13.5,10.8,9.9,-14.5,-17.4,-19.2,-20.2,-28.5,-29.5,-38.9],
[31.3,23.8,22.9,21,15.4,13.5,8.9,-4.3,-11.7,-28.5,-29.5,-39.9,-42.6,-43.5,-44.5,-46.4,-52],
[56.6,30.4,29.5,23.8,15.4,14.4,8.9,-8.9,-9.9,-10.8,-11.7,-28.5,-29.5,-44.5,-47.4,-48.3,-49.2,-53.9],
[77.2,59.4,58.5,30.4,29.5,15.4,14.4,13.5,12.6,10.8,7.9,-8.9,-28.5,-29.5,-30.5,-31.4,-44.5],
[77.2,69.7,60.4,59.4,58.5,57.6,56.6,52.9,51.9,51,47.3,30.4,29.5,28.6,27.7,26.7,25.8,24.8,20.1,19.2,18.2,17.3,14.4,13.5,12.6,11.6,7,-15.5,-16.5,-18.3,-19.2,-20.2,-21.1,-26.7,-28.5,-29.5,-30.5,-31.4,-43.5,-44.5],
[76.3,73.5,72.6,71.7,62.3,61.3,46.3,41.7,29.5,28.6,14.4,12.6,11.6,6,5.1,-23.9,-27.6,-29.5,-30.5,-31.4,-32.4,-42.6]];

const panels = [panelA,panelB,panelC,panelD,panelE,panelF];
const stips = [stipA,stipB,stipC,stipD,stipE,stipF];
const floorOutline = [false,true,false,true,false,true];
const capOutline = [true,true,true,true,false,false];
const lefts = [85,346.5,610.3,874,1137.7,1399.3];
const rights = [312,575.5,838,1100.7,1364.3,1628.3];

const root = document.getElementById("root");
const TOP = 48.3, BOTTOM = 717.7, H = 781, PAD = 70;
const classValue = k => k > 0 ? (k - 0.5) * 5 / 3 : (k + 0.5) * 5 / 3;
const colorScale = {type:"threshold", domain:barTicks, range:barColors};
const AX = "#5a5a5a", EDGE = "#e9aeae";

panels.forEach((rows, p) => {
  rows.forEach(r => { if (r.length !== 13) throw new Error("bad row "+p+" "+r[0]); });
  const cells = [], edges = [];
  rows.forEach((r, i) => {
    const top = r[0], bottom = i + 1 < rows.length ? rows[i+1][0] : -61;
    for (let m = 0; m < 12; m++) {
      const v = r[m+1];
      if (v !== null) { cells.push({m: m+1, top, bottom, v: classValue(v)}); continue; }
      const last = i === rows.length - 1;
      const up = i > 0 ? rows[i-1][m+1] : null;
      const down = !last ? rows[i+1][m+1] : null;
      if (up !== null && (!last || floorOutline[p])) edges.push({x1:m+.5,x2:m+1.5,y1:top,y2:top});
      if (down !== null) edges.push({x1:m+.5,x2:m+1.5,y1:bottom,y2:bottom});
      if (!last) {
        if (m > 0 && r[m] !== null) edges.push({x1:m+.5,x2:m+.5,y1:top,y2:bottom});
        if (m < 11 && r[m+2] !== null) edges.push({x1:m+1.5,x2:m+1.5,y1:top,y2:bottom});
      }
    }
    if (i === 0 && capOutline[p]) for (let m = 0; m < 12; m++) if (r[m+1] !== null) edges.push({x1:m+.5,x2:m+1.5,y1:top,y2:top});
  });
  const dots = [];
  stips[p].forEach((lats, m) => lats.forEach(lat => dots.push({m: m+1, lat})));
  const w = rights[p] - lefts[p];
  const chart = Plot.plot({
    width: w + PAD + 2, height: H,
    marginLeft: PAD, marginRight: 2, marginTop: TOP, marginBottom: H - BOTTOM,
    style: {fontFamily:"Liberation Sans", fontSize:"18.5px", color:"#3c3c3c", background:"transparent", overflow:"visible"},
    x: {domain:[0.5,12.5], axis:null},
    y: {domain:[-61,81], axis:null},
    color: colorScale,
    marks: [
      Plot.frame({fill:"#d6d6d6", stroke:"none"}),
      Plot.rect(cells, {x1:d=>d.m-.5, x2:d=>d.m+.5, y1:"bottom", y2:"top", fill:"v", shapeRendering:"crispEdges"}),
      Plot.link(edges, {x1:"x1",x2:"x2",y1:"y1",y2:"y2", stroke:EDGE, strokeWidth:1.1}),
      Plot.dot(dots, {x:"m", y:"lat", r:0.75, fill:"#222", stroke:"none"}),
      Plot.ruleX([0.5], {stroke:AX, strokeWidth:1.6}),
      Plot.ruleY([-61], {stroke:AX, strokeWidth:1.6}),
      Plot.axisX({ticks:monthTicks, tickSize:6, tickPadding:11, tickFormat:d=>monthNames[(d-1)/2], stroke:AX, fill:"#3c3c3c", label:null, anchor:"bottom"}),
      p === 0
        ? Plot.axisY({ticks:latTicks, tickSize:8, tickPadding:14, tickFormat:d=>String(d), stroke:AX, fill:"#3c3c3c", label:null, anchor:"left"})
        : Plot.axisY({ticks:latTicks, tickSize:8, fill:"none", stroke:AX, label:null, anchor:"left"}),
      Plot.text(["Month"], {frameAnchor:"bottom", dy:58, fontSize:22.6, fill:"#3c3c3c"}),
      Plot.text([titles[p]], {frameAnchor:"top-left", dx:-29, dy:-38, fontSize:20, fontWeight:"bold", fill:"#111", textAnchor:"start"})
    ]
  });
  chart.querySelectorAll('g[aria-label="rect"]').forEach(g => { g.style.filter = "blur(0.45px)"; });
  const holder = document.createElement("div");
  holder.className = "p";
  holder.style.left = (lefts[p] - PAD) + "px";
  holder.appendChild(chart);
  root.appendChild(holder);
});

// colour bar
const barEdges = [-15, ...barTicks, 15];
const barRects = barColors.map((c,i)=>({lo:barEdges[i],hi:barEdges[i+1],v:(barEdges[i]+barEdges[i+1])/2}));
const bar = Plot.plot({
  width: 10 + 63.5 + 110, height: H,
  marginLeft: 10, marginRight: 110, marginTop: 6.5, marginBottom: H - 761,
  style: {fontFamily:"Liberation Sans", fontSize:"16.6px", color:"#3c3c3c", background:"transparent", overflow:"visible"},
  x: {domain:[0,1], axis:null},
  y: {domain:[-15,15], axis:null},
  color: colorScale,
  marks: [
    Plot.rect(barRects, {x1:0, x2:1, y1:"lo", y2:"hi", fill:"v", shapeRendering:"crispEdges"}),
    Plot.frame({stroke:"#666", strokeWidth:1.2}),
    Plot.ruleY(barTicks, {x1:0.89, x2:1, stroke:"#555", strokeWidth:1}),
    Plot.axisY({ticks:barTicks, anchor:"right", tickSize:0, tickPadding:7, tickFormat:d=>String(d), label:null, fill:"#3c3c3c"})
  ]
});
const barHolder = document.createElement("div");
barHolder.className = "p";
barHolder.style.left = (1683.5 - 10) + "px";
barHolder.appendChild(bar);
root.appendChild(barHolder);

// rotated side titles
[["Latitude [° N]",25,383.5],["\u0394LH(f-o) [W/m<sup> -2</sup>]",1862,385],["Forest higher LH",1889,251],["Openland higher LH",1889,508]].forEach(([t,x,y])=>{
  const d = document.createElement("div");
  d.className = "rot"; d.innerHTML = t; d.style.left = x+"px"; d.style.top = y+"px";
  root.appendChild(d);
});
</script></body></html>
